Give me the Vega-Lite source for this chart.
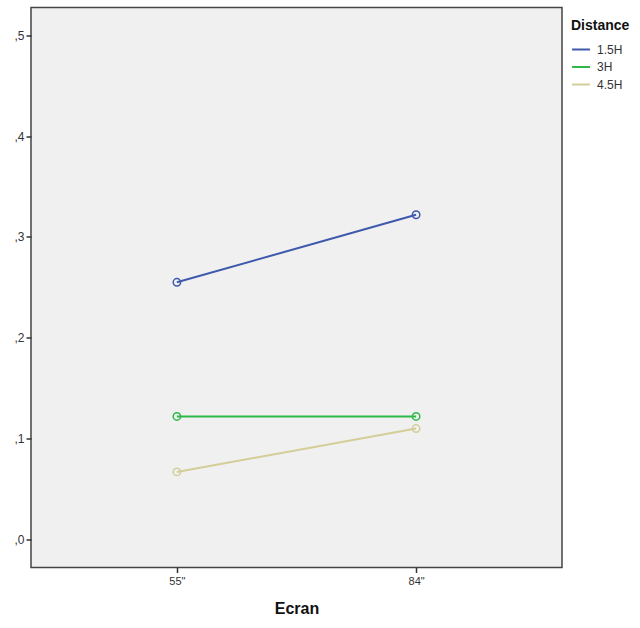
{
  "$schema": "https://vega.github.io/schema/vega-lite/v6.json",
  "autosize": "none",
  "width": 531,
  "height": 560,
  "padding": {"left": 31, "top": 7.5, "right": 78, "bottom": 60.5},
  "background": "white",
  "config": {
    "view": {"fill": "#f0f0f0", "stroke": "#444444", "strokeWidth": 1.5},
    "font": "Liberation Sans"
  },
  "data": {
    "values": [
      {"Ecran": "55\"", "Distance": "1.5H", "v": 0.255},
      {"Ecran": "84\"", "Distance": "1.5H", "v": 0.322},
      {"Ecran": "55\"", "Distance": "3H", "v": 0.122},
      {"Ecran": "84\"", "Distance": "3H", "v": 0.122},
      {"Ecran": "55\"", "Distance": "4.5H", "v": 0.067},
      {"Ecran": "84\"", "Distance": "4.5H", "v": 0.110}
    ]
  },
  "encoding": {
    "x": {
      "field": "Ecran", "type": "ordinal", "sort": ["55\"", "84\""],
      "scale": {"type": "point", "padding": 0.61},
      "axis": {
        "title": "Ecran", "titleFont": "Liberation Sans", "titleFontSize": 16, "titleFontWeight": "bold",
        "titleColor": "#111", "titlePadding": 14,
        "labelAngle": 0, "labelFontSize": 11, "labelColor": "#333", "labelPadding": 3,
        "domain": false, "tickColor": "#333", "tickSize": 5, "tickWidth": 1.5
      }
    },
    "y": {
      "field": "v", "type": "quantitative",
      "scale": {"domain": [-0.0278, 0.5275], "nice": false, "zero": false},
      "axis": {
        "title": null, "values": [0, 0.1, 0.2, 0.3, 0.4, 0.5],
        "labelExpr": "replace(format(datum.value, '.1f'), '0.', ',')",
        "labelFontSize": 12, "labelColor": "#333", "labelPadding": 2,
        "domain": false, "grid": false, "tickColor": "#333", "tickSize": 5, "tickWidth": 1.5
      }
    },
    "color": {
      "field": "Distance", "type": "nominal",
      "scale": {"domain": ["1.5H", "3H", "4.5H"], "range": ["#3e58ac", "#2eb848", "#d3ce97"]},
      "legend": {
        "orient": "none", "legendX": 540, "legendY": 11,
        "title": "Distance", "titleFontSize": 14, "titleFontWeight": "bold", "titleColor": "#111",
        "titlePadding": 7,
        "labelFontSize": 12, "labelColor": "#333",
        "symbolType": "stroke", "symbolSize": 320, "symbolStrokeWidth": 2,
        "rowPadding": 1.5, "offset": 0, "padding": 0, "labelOffset": 6
      }
    }
  },
  "layer": [
    {"mark": {"type": "line", "strokeWidth": 2}},
    {"mark": {"type": "point", "filled": false, "size": 55, "strokeWidth": 1.5, "opacity": 1}}
  ]
}
